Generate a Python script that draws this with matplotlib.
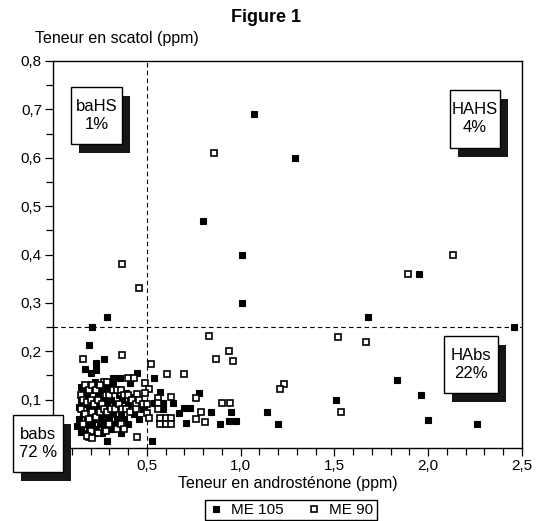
import matplotlib
matplotlib.use('Agg')
import matplotlib.pyplot as plt
from matplotlib.patches import Rectangle
from matplotlib.ticker import MultipleLocator, FuncFormatter

plt.rcParams['font.family'] = ['Liberation Sans', 'DejaVu Sans']

# ME 105 (filled squares): androstenone (x), scatol (y)
me105_x = [1.07, 1.29, 0.80, 1.005, 1.005, 0.29, 0.21, 1.68, 1.95, 2.46, 1.835, 1.96,
           1.51, 0.84, 0.95, 1.14, 0.89, 0.94, 0.975, 1.20, 2.00, 2.26,
           0.19, 0.27, 0.23, 0.17, 0.20, 0.23, 0.45, 0.54, 0.32, 0.355, 0.225, 0.32,
           0.41, 0.15, 0.57, 0.78, 0.39, 0.41, 0.54, 0.585, 0.64, 0.70, 0.73, 0.585,
           0.67, 0.71, 0.53, 0.29, 0.36, 0.15,
           0.16, 0.18, 0.20, 0.22, 0.24, 0.26, 0.17, 0.19, 0.21, 0.23, 0.25, 0.27,
           0.29, 0.31, 0.33, 0.16, 0.18, 0.20, 0.22, 0.24, 0.26, 0.28, 0.30, 0.32,
           0.34, 0.36, 0.17, 0.19, 0.21, 0.23, 0.25, 0.27, 0.29, 0.31, 0.33, 0.15,
           0.18, 0.22, 0.26, 0.38, 0.40, 0.43, 0.46, 0.48, 0.40, 0.37, 0.35, 0.30,
           0.28, 0.15, 0.14, 0.14, 0.13]
me105_y = [0.69, 0.60, 0.47, 0.40, 0.30, 0.27, 0.25, 0.27, 0.36, 0.25, 0.14, 0.11,
           0.10, 0.074, 0.074, 0.075, 0.05, 0.056, 0.056, 0.05, 0.058, 0.049,
           0.213, 0.184, 0.176, 0.163, 0.155, 0.162, 0.155, 0.145, 0.144, 0.144, 0.137, 0.135,
           0.134, 0.127, 0.115, 0.114, 0.114, 0.106, 0.092, 0.094, 0.092, 0.082, 0.082, 0.081,
           0.072, 0.051, 0.014, 0.014, 0.030, 0.034,
           0.12, 0.11, 0.12, 0.10, 0.11, 0.12, 0.09, 0.08, 0.09, 0.08, 0.09, 0.10,
           0.09, 0.10, 0.09, 0.07, 0.06, 0.07, 0.06, 0.07, 0.06, 0.07, 0.06, 0.07,
           0.06, 0.07, 0.05, 0.04, 0.05, 0.04, 0.05, 0.04, 0.05, 0.04, 0.05, 0.04,
           0.03, 0.03, 0.03, 0.06, 0.05, 0.07, 0.06, 0.08, 0.09, 0.10, 0.11, 0.12,
           0.13, 0.10, 0.06, 0.085, 0.045]

# ME 90 (open squares)
me90_x = [0.86, 0.37, 0.46, 1.89, 2.13, 0.83, 1.52, 1.67, 0.94, 0.87, 0.96, 1.23,
          1.21, 0.90, 0.945, 0.79, 1.535, 0.81,
          0.37, 0.16, 0.52, 0.61, 0.70, 0.40, 0.43, 0.27, 0.29, 0.49, 0.51, 0.49,
          0.36, 0.45, 0.63, 0.76, 0.56, 0.56, 0.56, 0.76, 0.57, 0.60, 0.63, 0.57,
          0.60, 0.63, 0.50, 0.51, 0.45, 0.19,
          0.15, 0.17, 0.19, 0.21, 0.23, 0.25, 0.16, 0.18, 0.20, 0.22, 0.24, 0.26,
          0.28, 0.30, 0.32, 0.34, 0.36, 0.38, 0.40, 0.42, 0.44, 0.46, 0.48, 0.50,
          0.15, 0.17, 0.19, 0.21, 0.23, 0.25, 0.27, 0.29, 0.31, 0.33, 0.35, 0.37,
          0.39, 0.41, 0.44, 0.16, 0.20, 0.24, 0.28, 0.30, 0.34, 0.36, 0.38, 0.18,
          0.21]
me90_y = [0.61, 0.38, 0.33, 0.36, 0.40, 0.232, 0.23, 0.22, 0.20, 0.183, 0.18, 0.133,
          0.121, 0.092, 0.092, 0.075, 0.074, 0.054,
          0.192, 0.184, 0.174, 0.152, 0.152, 0.144, 0.144, 0.136, 0.136, 0.134, 0.122, 0.113,
          0.114, 0.111, 0.106, 0.104, 0.103, 0.094, 0.081, 0.059, 0.063, 0.063, 0.063, 0.049,
          0.049, 0.049, 0.073, 0.063, 0.023, 0.022,
          0.11, 0.13, 0.12, 0.13, 0.12, 0.13, 0.10, 0.095, 0.10, 0.09, 0.10, 0.09,
          0.11, 0.11, 0.12, 0.12, 0.12, 0.11, 0.11, 0.10, 0.09, 0.10, 0.09, 0.09,
          0.08, 0.07, 0.06, 0.075, 0.065, 0.075, 0.08, 0.075, 0.08, 0.08, 0.09, 0.08,
          0.08, 0.075, 0.08, 0.05, 0.035, 0.03, 0.035, 0.05, 0.04, 0.05, 0.04, 0.025,
          0.02]

# quadrant labels
quad_text = ['baHS\n1%', 'HAHS\n4%', 'HAbs\n22%', 'babs\n72 %']

W, H = 544, 521
fig = plt.figure(figsize=(W / 100, H / 100), dpi=100)
ax = fig.add_axes([53 / W, 1 - 448 / H, 469 / W, 387 / H])

ax.plot(me105_x, me105_y, 's', ms=4.2, mfc='black', mec='black', mew=0.8,
        ls='none', label='ME 105')
ax.plot(me90_x, me90_y, 's', ms=4.2, mfc='white', mec='black', mew=1.2,
        ls='none', label='ME 90')

ax.axvline(0.5, color='black', ls=(0, (4, 3)), lw=0.8, zorder=0)
ax.axhline(0.25, color='black', ls=(0, (4, 3)), lw=0.8, zorder=0)

ax.set_xlim(0, 2.5)
ax.set_ylim(0, 0.8)
ax.xaxis.set_major_locator(MultipleLocator(0.5))
ax.xaxis.set_minor_locator(MultipleLocator(0.1))
ax.yaxis.set_major_locator(MultipleLocator(0.1))
ax.yaxis.set_minor_locator(MultipleLocator(0.05))
fmt = FuncFormatter(lambda v, p: '' if abs(v) < 1e-9 else ('%.1f' % v).replace('.', ','))
ax.xaxis.set_major_formatter(fmt)
ax.yaxis.set_major_formatter(fmt)
ax.tick_params(which='major', direction='out', length=6, width=0.9, labelsize=11, pad=2)
ax.tick_params(which='minor', direction='out', length=5, width=0.9)
for s in ax.spines.values():
    s.set_linewidth(1.0)

ax.set_xlabel('Teneur en androsténone (ppm)', fontsize=11.5, labelpad=2)
fig.text(266 / W, 1 - 18 / H, 'Figure 1', fontsize=13, fontweight='bold',
         ha='center', va='center')
fig.text(35 / W, 1 - 39 / H, 'Teneur en scatol (ppm)', fontsize=11.5,
         ha='left', va='center')

# boxes with drop shadow (pixel layout)
boxes = [(71, 87, 122, 144), (450, 90, 500, 148), (444, 336, 498, 393), (13, 415, 63, 472)]
for (x0, y0, x1, y1), t in zip(boxes, quad_text):
    sh = Rectangle(((x0 + 8) / W, 1 - (y1 + 9) / H), (x1 - x0) / W, (y1 - y0) / H,
                   transform=fig.transFigure, facecolor='#161616', edgecolor='none',
                   zorder=10)
    bx = Rectangle((x0 / W, 1 - y1 / H), (x1 - x0) / W, (y1 - y0) / H,
                   transform=fig.transFigure, facecolor='white', edgecolor='black',
                   lw=1.0, zorder=11)
    fig.add_artist(sh)
    fig.add_artist(bx)
    fig.text((x0 + x1) / 2 / W, 1 - (y0 + y1) / 2 / H, t, fontsize=12,
             ha='center', va='center', linespacing=1.25, zorder=12)

leg = ax.legend(loc='upper left', bbox_to_anchor=(205 / W, 1 - 500 / H),
                bbox_transform=fig.transFigure, ncol=2, fontsize=11,
                frameon=True, fancybox=False, edgecolor='black', framealpha=1,
                handlelength=1.0, handletextpad=0.5, columnspacing=1.5,
                borderpad=0.2, borderaxespad=0)
leg.get_frame().set_linewidth(1.0)

fig.savefig('out.png', dpi=100)
